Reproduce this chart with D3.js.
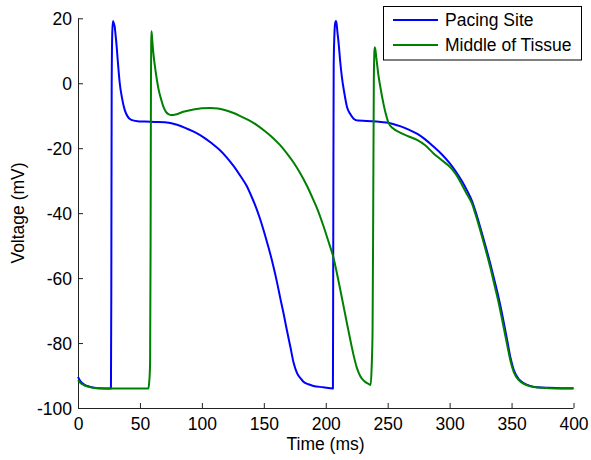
<!DOCTYPE html>
<html><head><meta charset="utf-8">
<script src="https://cdn.jsdelivr.net/npm/d3@7/dist/d3.min.js"></script>
<style>body{margin:0;background:#fff}svg{display:block}text{font-family:Arial,"Liberation Sans",sans-serif;fill:#000}</style>
</head><body>
<svg id="c" width="591" height="460"></svg>
<script>
const xTicks = [0,50,100,150,200,250,300,350,400];
const yTicks = [-100,-80,-60,-40,-20,0,20];
const seriesNames = ["Pacing Site","Middle of Tissue"];

const pacingT = [0,2,5,10,16,26.6,26.9,27.2,27.7,28.3,29,29.6,30.3,31,32.3,33.7,35.5,37.7,40,43,48,54,62,70,80,88,95,102,108,114,120,126,131,136,140,144,147,150,153,155.5,157.8,160.5,163.2,166,168.6,171.5,174,177,180,182,186,190,198,205.8,206.1,206.4,207,207.6,208.2,208.8,209.5,210.4,211.6,213,215,217.1,219.8,222.5,226,233,241,249,255,260,267,274,280,287,294,300,305,310,314,318,321,324,327,330,333,336,339.7,343,346.4,349,351.8,356,360,365,371,380,390,400];
const pacingV = [-90.4,-91.8,-92.8,-93.5,-93.9,-94,-60,0,16,19.2,18.3,17.5,15,12.3,6,0,-4.5,-8.2,-10.2,-11.3,-11.7,-11.8,-11.9,-12,-12.8,-14,-15.2,-16.8,-18.5,-20.4,-22.8,-25.7,-28.5,-31.5,-34.8,-38.5,-41.8,-45.5,-49.5,-53,-56.5,-61,-66,-71,-76,-81.3,-86,-89.4,-91,-91.9,-92.7,-93.2,-93.6,-94,-40,5,15,18.5,19.2,18.2,15.5,12.3,7,2,-3,-7.2,-9.5,-10.9,-11.5,-11.6,-11.8,-12.1,-12.6,-13.2,-14.3,-15.6,-17.2,-19.5,-22,-24.6,-27.2,-30.2,-33,-36.2,-39.6,-43.4,-47.4,-51.5,-55.8,-60.4,-66.3,-72.3,-79,-84.3,-88.3,-91.2,-92.4,-93.2,-93.6,-93.8,-93.9,-93.9];

const middleT = [0,2,5,10,16,30,45,56.8,57.5,58.2,58.6,58.9,59.1,59.3,59.8,60.6,62,63.3,65,67.3,69,71,73,75.7,79,85,92,100,107,113,119,125,131,137.4,144.4,151,157.8,163,168.6,174,179.4,185,190.1,194,198,202,206.3,209,211.7,214.4,217.1,219.8,222.5,225,227.9,231,234.6,236.3,237,237.8,238.3,238.8,239.2,239.5,240,240.8,242.7,244,246.7,248.5,250.8,254,260,267,274,280,287,294,300.6,305,310,314,318,321,324,327,330,333,336,339.7,343,346.4,349,351.8,356,360,365,371,380,390,400];
const middleV = [-91.4,-92.3,-93,-93.6,-93.9,-94,-94,-94,-92,-86.2,-50,0,12,16,14,10.2,5.5,2,-1.8,-5.2,-7.3,-8.8,-9.5,-9.8,-9.6,-8.8,-8.2,-7.7,-7.6,-7.8,-8.3,-9.1,-10.1,-11.3,-12.9,-14.8,-17,-19,-21.6,-24.4,-27.7,-31.7,-36,-39.5,-43.8,-48.5,-53.8,-58.5,-63.5,-68.7,-73.9,-79,-83.8,-87.5,-90.2,-91.7,-92.6,-92.9,-88,-76,-40,0,9,11.1,10.5,8,2,-1,-6.5,-9.5,-12.3,-13.8,-15.2,-16.4,-17.5,-19,-21.6,-23.8,-25.9,-28,-31.3,-34.2,-37,-40.5,-44.3,-48.4,-52.6,-57,-61.8,-67.8,-74,-80.5,-85.3,-89,-91.5,-92.6,-93.3,-93.7,-93.9,-94,-94];

const colors = ["#0000ff","#008000"];
const svg = d3.select("#c");
const x = d3.scaleLinear().domain([0,400]).range([78,573.5]);
const y = d3.scaleLinear().domain([-100,20]).range([408,18.3]);
const FS = 17.5;
const fmt = d => String(d);

// axes
const gx = svg.append("g").attr("transform","translate(0,408)")
  .call(d3.axisBottom(x).tickValues(xTicks).tickSize(-5).tickPadding(0).tickFormat(fmt));
gx.selectAll("text").attr("y",22).attr("dy",0).style("font-size",FS+"px").style("font-family","Arial,'Liberation Sans',sans-serif").attr("fill","#000");
const gy = svg.append("g").attr("transform","translate(78,0)")
  .call(d3.axisLeft(y).tickValues(yTicks).tickSize(-5).tickPadding(0).tickFormat(fmt));
gy.selectAll("text").attr("x",-6).attr("dy","0.38em").style("font-size",FS+"px").style("font-family","Arial,'Liberation Sans',sans-serif").attr("fill","#000");
svg.selectAll(".domain").attr("stroke","#222").attr("stroke-width",1);
svg.selectAll(".tick line").attr("stroke","#222");
gx.select(".domain").attr("d","M78,0.5H573.5");
gy.select(".domain").attr("d","M0.5,18.3V408");

// lines
const line = d3.line().x(d=>x(d[0])).y(d=>y(d[1])).curve(d3.curveMonotoneX);
const data = [d3.zip(pacingT,pacingV), d3.zip(middleT,middleV)];
data.forEach((d,i)=>{
  svg.append("path").datum(d).attr("d",line).attr("fill","none")
    .attr("stroke",colors[i]).attr("stroke-width",2).attr("stroke-linejoin","round");
});

// labels
svg.append("text").attr("x",325.5).attr("y",450).attr("text-anchor","middle").style("font-size",FS+"px").text("Time (ms)");
svg.append("text").attr("transform","translate(24,213) rotate(-90)").attr("text-anchor","middle").style("font-size",FS+"px").text("Voltage (mV)");

// legend
const lg = svg.append("g");
lg.append("rect").attr("x",383.5).attr("y",6.5).attr("width",198).attr("height",53.5).attr("fill","#fff").attr("stroke","#000").attr("stroke-width",1);
seriesNames.forEach((n,i)=>{
  const yy = 20 + i*25;
  lg.append("line").attr("x1",393).attr("x2",438).attr("y1",yy).attr("y2",yy).attr("stroke",colors[i]).attr("stroke-width",2);
  lg.append("text").attr("x",445).attr("y",yy).attr("dy","0.36em").style("font-size",FS+"px").text(n);
});
</script>
</body></html>
